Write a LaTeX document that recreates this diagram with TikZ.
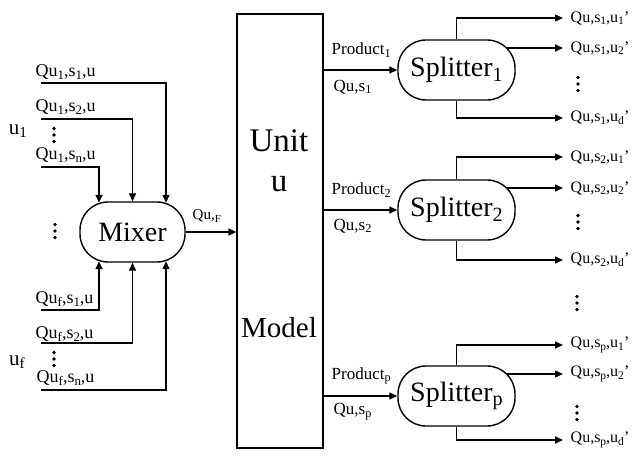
\documentclass[tikz,border=0pt]{standalone}
\usepackage{fontspec}
\usepackage{graphicx}
\setmainfont{Liberation Serif}
\usetikzlibrary{arrows.meta,calc}
\newcommand\lo[1]{\raisebox{-0.35ex}{\scalebox{0.72}{#1}}}
\begin{document}
\begin{tikzpicture}[x=1pt,y=-1pt,
  line width=1.4pt,
  arr/.style={-{Triangle[length=8pt,width=7pt]}},
  lab/.style={font=\fontsize{17}{17}\selectfont, inner sep=0pt, anchor=west},
  llab/.style={lab, font=\fontsize{18}{18}\selectfont},
  rlab/.style={lab, font=\fontsize{16}{16}\selectfont},
  big/.style={font=\fontsize{28}{28}\selectfont},
  pill/.style={draw, rectangle, rounded corners=28pt, minimum height=60pt, inner sep=0pt},
  vd/.pic={\fill (0,-6.5) circle (1.9) (0,0) circle (1.9) (0,6.5) circle (1.9);}
]
\useasboundingbox (0,0) rectangle (632,457);

% unit box
\node[draw, minimum width=86pt, minimum height=434pt, inner sep=0pt] (un) at (280,231) {};
\node[font=\fontsize{33}{33}\selectfont] (tunit) at (279,141) {Unit};
\node[font=\fontsize{33}{33}\selectfont] (tu) at (279,184) {u};
\node[font=\fontsize{29}{29}\selectfont] (tmodel) at (279,328) {Model};

% mixer
\node[pill, minimum width=105pt, big] (mx) at (132.5,232) {Mixer};

% splitters
\node[pill, minimum width=117pt, big] (s1) at (456.5,70) {Splitter\lo{1}};
\node[pill, minimum width=117pt, big] (s2) at (456.5,210) {Splitter\lo{2}};
\node[pill, minimum width=117pt, big] (sp) at (456.5,396) {Splitter\lo{p}};

% left inputs
\node[font=\fontsize{21}{21}\selectfont] (u1) at (18,131) {u\lo{1}};
\node[font=\fontsize{21}{21}\selectfont] (uf) at (17,362) {u\lo{f}};

\node[llab] (l1) at (35,72) {Qu\lo{1},s\lo{1},u};
\node[llab] (l2) at (35,107) {Qu\lo{1},s\lo{2},u};
\node[llab] (l3) at (35,155) {Qu\lo{1},s\lo{n},u};
\node[llab] (l4) at (35,299) {Qu\lo{f},s\lo{1},u};
\node[llab] (l5) at (35,334) {Qu\lo{f},s\lo{2},u};
\node[llab] (l6) at (36,378) {Qu\lo{f},s\lo{n},u};

\coordinate (a1) at (41,83);
\coordinate (a2) at (41,119);
\coordinate (a3) at (41,167);
\coordinate (b1) at (41,310);
\coordinate (b2) at (41,343);
\coordinate (b3) at (41,390);

\draw[arr] (a1) -| ([xshift=33.5pt,yshift=-1.5pt]mx.north);
\draw[arr] (a2) -| (mx.north);
\draw[arr] (a3) -| ([xshift=-33.5pt,yshift=-1.5pt]mx.north);
\draw[arr] (b1) -| ([xshift=-33.5pt,yshift=1.5pt]mx.south);
\draw[arr] (b2) -| (mx.south);
\draw[arr] (b3) -| ([xshift=33.5pt,yshift=1.5pt]mx.south);

\pic at (54,135) {vd};
\pic at (55,231) {vd};
\pic at (54,359) {vd};

% mixer to unit
\draw[arr] (mx.east) -- (mx.east -| un.west);
\node[lab, font=\fontsize{15}{15}\selectfont] (qf) at (192,216) {Qu,\lo{F}};

% unit to splitters
\draw[arr] (un.east |- s1.west) -- (s1.west);
\draw[arr] (un.east |- s2.west) -- (s2.west);
\draw[arr] (un.east |- sp.west) -- (sp.west);
\node[lab] (p1) at (331,50) {Product\lo{1}};
\node[lab] (q1) at (333,87) {Qu,s\lo{1}};
\node[lab] (p2) at (331,190) {Product\lo{2}};
\node[lab] (q2) at (333,226) {Qu,s\lo{2}};
\node[lab] (pp) at (331,376) {Product\lo{p}};
\node[lab] (qp) at (333,412) {Qu,s\lo{p}};

% splitter outputs
\node[rlab] (o11) at (570,18) {Qu,s\lo{1},u\lo{1}’};
\node[rlab] (o12) at (570,48) {Qu,s\lo{1},u\lo{2}’};
\node[rlab] (o13) at (570,118) {Qu,s\lo{1},u\lo{d}’};
\node[rlab] (o21) at (570,157) {Qu,s\lo{2},u\lo{1}’};
\node[rlab] (o22) at (570,188) {Qu,s\lo{2},u\lo{2}’};
\node[rlab] (o23) at (570,260) {Qu,s\lo{2},u\lo{d}’};
\node[rlab] (op1) at (570,345) {Qu,s\lo{p},u\lo{1}’};
\node[rlab] (op2) at (570,374) {Qu,s\lo{p},u\lo{2}’};
\node[rlab] (op3) at (570,440) {Qu,s\lo{p},u\lo{d}’};

\draw[arr] (s1.north) |- ([xshift=-7pt]o11.west);
\draw[arr] ([shift={(50,-22)}]s1.center) -- ([xshift=-7pt]o12.west);
\draw[arr] (s1.south) |- ([xshift=-7pt]o13.west);
\draw[arr] (s2.north) |- ([xshift=-7pt]o21.west);
\draw[arr] ([shift={(50,-22)}]s2.center) -- ([xshift=-7pt]o22.west);
\draw[arr] (s2.south) |- ([xshift=-7pt]o23.west);
\draw[arr] (sp.north) |- ([xshift=-7pt]op1.west);
\draw[arr] ([shift={(50,-22)}]sp.center) -- ([xshift=-7pt]op2.west);
\draw[arr] (sp.south) |- ([xshift=-7pt]op3.west);

\pic at (578,84) {vd};
\pic at (578,222) {vd};
\pic at (577,303) {vd};
\pic at (577,413) {vd};
\end{tikzpicture}
\end{document}
